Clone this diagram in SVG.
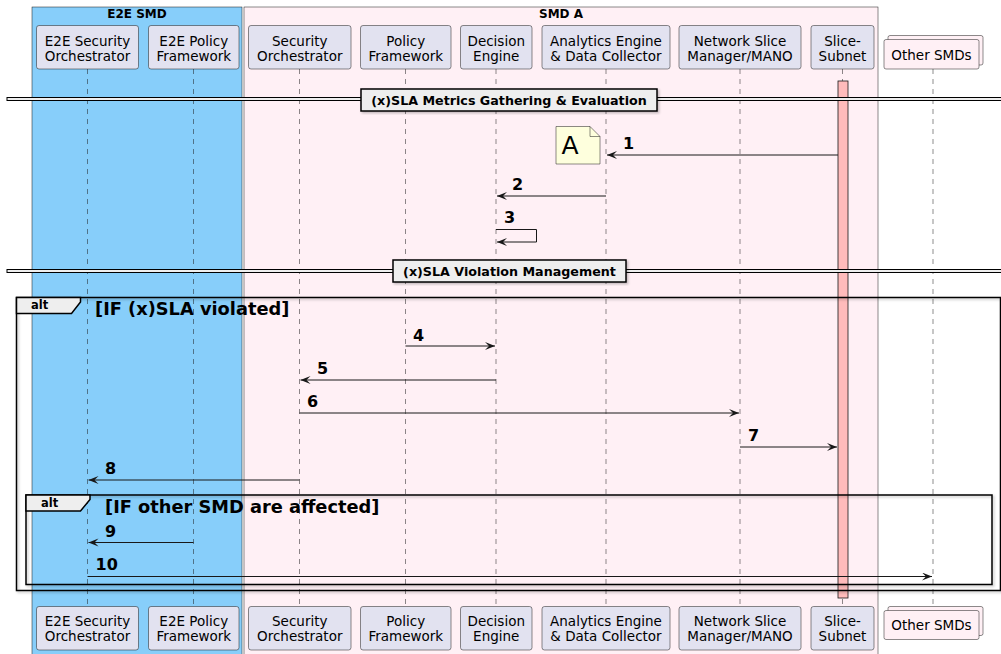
<svg xmlns="http://www.w3.org/2000/svg" width="1001" height="654" viewBox="0 0 1001 654">
  <style>
    text { font-family: "DejaVu Sans", "Liberation Sans", sans-serif; fill: #000; }
    .ptext { font-size: 13.5px; text-anchor: middle; }
    .box { fill: #E2E2F0; stroke: #181818; stroke-width: 0.5; }
    .coll { fill: #FFF0F5; stroke: #181818; stroke-width: 0.5; }
    .life { stroke: #181818; stroke-width: 0.5; stroke-dasharray: 5 5; fill: none; }
    .msg { stroke: #181818; stroke-width: 1; fill: none; marker-end: url(#arrow); }
    .num { font-size: 16px; font-weight: bold; }
    .divbar { fill: #EEEEEE; stroke: #000; stroke-width: 1; }
    .divbox { fill: #EEEEEE; stroke: #000; stroke-width: 1.5; }
    .divtext { font-size: 12.7px; font-weight: bold; text-anchor: middle; }
    .frame { fill: none; stroke: #000; stroke-width: 1.5; }
    .tab { fill: #EEEEEE; stroke: #000; stroke-width: 1.5; }
    .tabtext { font-size: 11.5px; font-weight: bold; }
    .guard { font-size: 17.8px; font-weight: bold; }
    .grptitle { font-size: 12px; font-weight: bold; text-anchor: middle; }
  </style>
  <defs>
    <marker id="arrow" markerUnits="userSpaceOnUse" markerWidth="11" markerHeight="9" refX="10" refY="4" orient="auto">
      <path d="M0,0 L10,4 L0,8 L4,4 Z" fill="#181818"/>
    </marker>
    <filter id="shadow" x="-5%" y="-5%" width="110%" height="120%">
      <feDropShadow dx="1.5" dy="1.5" stdDeviation="1" flood-color="#000" flood-opacity="0.25"/>
    </filter>
  </defs>

  <rect width="1001" height="654" fill="#FFFFFF"/>

  <!-- domain boxes -->
  <g id="box-e2e-smd">
    <rect x="32" y="7" width="210" height="660" fill="#87CEFA" stroke="#181818" stroke-width="0.5"/>
    <text class="grptitle" x="137" y="18">E2E SMD</text>
  </g>
  <g id="box-smd-a">
    <rect x="244" y="7" width="634" height="660" fill="#FFF0F5" stroke="#181818" stroke-width="0.5"/>
    <text class="grptitle" x="561" y="18">SMD A</text>
  </g>

  <!-- lifelines -->
  <g id="lifelines">
    <line class="life" x1="87.5" y1="69" x2="87.5" y2="606"/>
    <line class="life" x1="193.5" y1="69" x2="193.5" y2="606"/>
    <line class="life" x1="299.5" y1="69" x2="299.5" y2="606"/>
    <line class="life" x1="405.5" y1="69" x2="405.5" y2="606"/>
    <line class="life" x1="496" y1="69" x2="496" y2="606"/>
    <line class="life" x1="606" y1="69" x2="606" y2="606"/>
    <line class="life" x1="740" y1="69" x2="740" y2="606"/>
    <line class="life" x1="842.5" y1="69" x2="842.5" y2="606"/>
    <line class="life" x1="933" y1="69" x2="933" y2="606"/>
  </g>

  <!-- participants (head and foot) -->
  <g id="p-e2e-sec-orch">
    <rect class="box" x="36.5" y="25.5" width="102" height="43.5" rx="2.5"/>
    <text class="ptext" x="87.5" y="45.5">E2E Security</text>
    <text class="ptext" x="87.5" y="60.5">Orchestrator</text>
    <rect class="box" x="36.5" y="606.5" width="102" height="43.5" rx="2.5"/>
    <text class="ptext" x="87.5" y="626">E2E Security</text>
    <text class="ptext" x="87.5" y="641">Orchestrator</text>
  </g>
  <g id="p-e2e-policy">
    <rect class="box" x="148.5" y="25.5" width="90.5" height="43.5" rx="2.5"/>
    <text class="ptext" x="193.75" y="45.5">E2E Policy</text>
    <text class="ptext" x="193.75" y="60.5">Framework</text>
    <rect class="box" x="148.5" y="606.5" width="90.5" height="43.5" rx="2.5"/>
    <text class="ptext" x="193.75" y="626">E2E Policy</text>
    <text class="ptext" x="193.75" y="641">Framework</text>
  </g>
  <g id="p-sec-orch">
    <rect class="box" x="248.5" y="25.5" width="102.5" height="43.5" rx="2.5"/>
    <text class="ptext" x="299.75" y="45.5">Security</text>
    <text class="ptext" x="299.75" y="60.5">Orchestrator</text>
    <rect class="box" x="248.5" y="606.5" width="102.5" height="43.5" rx="2.5"/>
    <text class="ptext" x="299.75" y="626">Security</text>
    <text class="ptext" x="299.75" y="641">Orchestrator</text>
  </g>
  <g id="p-policy">
    <rect class="box" x="360.5" y="25.5" width="90.5" height="43.5" rx="2.5"/>
    <text class="ptext" x="405.75" y="45.5">Policy</text>
    <text class="ptext" x="405.75" y="60.5">Framework</text>
    <rect class="box" x="360.5" y="606.5" width="90.5" height="43.5" rx="2.5"/>
    <text class="ptext" x="405.75" y="626">Policy</text>
    <text class="ptext" x="405.75" y="641">Framework</text>
  </g>
  <g id="p-decision">
    <rect class="box" x="460.5" y="25.5" width="71.5" height="43.5" rx="2.5"/>
    <text class="ptext" x="496.25" y="45.5">Decision</text>
    <text class="ptext" x="496.25" y="60.5">Engine</text>
    <rect class="box" x="460.5" y="606.5" width="71.5" height="43.5" rx="2.5"/>
    <text class="ptext" x="496.25" y="626">Decision</text>
    <text class="ptext" x="496.25" y="641">Engine</text>
  </g>
  <g id="p-analytics">
    <rect class="box" x="542" y="25.5" width="128" height="43.5" rx="2.5"/>
    <text class="ptext" x="606" y="45.5">Analytics Engine</text>
    <text class="ptext" x="606" y="60.5">&amp; Data Collector</text>
    <rect class="box" x="542" y="606.5" width="128" height="43.5" rx="2.5"/>
    <text class="ptext" x="606" y="626">Analytics Engine</text>
    <text class="ptext" x="606" y="641">&amp; Data Collector</text>
  </g>
  <g id="p-nsm">
    <rect class="box" x="679" y="25.5" width="122" height="43.5" rx="2.5"/>
    <text class="ptext" x="740" y="45.5">Network Slice</text>
    <text class="ptext" x="740" y="60.5">Manager/MANO</text>
    <rect class="box" x="679" y="606.5" width="122" height="43.5" rx="2.5"/>
    <text class="ptext" x="740" y="626">Network Slice</text>
    <text class="ptext" x="740" y="641">Manager/MANO</text>
  </g>
  <g id="p-slice-subnet">
    <rect class="box" x="811" y="25.5" width="63" height="43.5" rx="2.5"/>
    <text class="ptext" x="842.5" y="45.5">Slice-</text>
    <text class="ptext" x="842.5" y="60.5">Subnet</text>
    <rect class="box" x="811" y="606.5" width="63" height="43.5" rx="2.5"/>
    <text class="ptext" x="842.5" y="626">Slice-</text>
    <text class="ptext" x="842.5" y="641">Subnet</text>
  </g>
  <g id="p-other-smds">
    <rect class="coll" x="888" y="35.5" width="95" height="29.5" rx="2"/>
    <rect class="coll" x="884" y="39.5" width="95" height="29.5" rx="2"/>
    <text class="ptext" x="931.5" y="59.5">Other SMDs</text>
    <rect class="coll" x="888" y="606.5" width="95" height="29" rx="2"/>
    <rect class="coll" x="884" y="610.5" width="95" height="29" rx="2"/>
    <text class="ptext" x="931.5" y="630">Other SMDs</text>
  </g>

  <!-- activation of Slice-Subnet -->
  <g id="activation-slice-subnet">
    <rect x="838" y="81" width="10" height="517" fill="#FFBBBB" stroke="#181818" stroke-width="0.8"/>
  </g>

  <!-- section dividers -->
  <g id="divider-metrics">
    <rect class="divbar" x="7" y="97.5" width="1000" height="3"/>
    <rect class="divbox" x="361" y="89" width="296" height="22" filter="url(#shadow)"/>
    <text class="divtext" x="509" y="105">(x)SLA Metrics Gathering &amp; Evaluation</text>
  </g>
  <g id="divider-violation">
    <rect class="divbar" x="7" y="269.5" width="1000" height="3"/>
    <rect class="divbox" x="393" y="260" width="233" height="22" filter="url(#shadow)"/>
    <text class="divtext" x="509.5" y="276">(x)SLA Violation Management</text>
  </g>

  <!-- note -->
  <g id="note-a">
    <path d="M556,126.5 L590,126.5 L600,136.5 L600,164 L556,164 Z" fill="#FEFFDD" stroke="#181818" stroke-width="0.5"/>
    <path d="M590,126.5 L590,136.5 L600,136.5" fill="none" stroke="#181818" stroke-width="0.5"/>
    <text x="561.5" y="154" font-size="25">A</text>
  </g>

  <!-- alt fragments -->
  <g id="alt-violated">
    <rect class="frame" x="16.5" y="297.5" width="984" height="293" filter="url(#shadow)"/>
    <path class="tab" d="M16.5,297.5 L80.5,297.5 L80.5,302 L71.5,313.5 L16.5,313.5 Z"/>
    <text class="tabtext" x="31" y="309">alt</text>
    <text class="guard" x="95" y="315">[IF (x)SLA violated]</text>
  </g>
  <g id="alt-other-smd">
    <rect class="frame" x="26" y="495" width="966" height="89.5" filter="url(#shadow)"/>
    <path class="tab" d="M26,495 L90,495 L90,499.5 L80.5,511 L26,511 Z"/>
    <text class="tabtext" x="41" y="506.5">alt</text>
    <text class="guard" x="105" y="513">[IF other SMD are affected]</text>
  </g>

  <!-- messages -->
  <g id="connectors">
    <line class="msg" x1="838" y1="155" x2="607" y2="155"/>
    <text class="num" x="623" y="149">1</text>

    <line class="msg" x1="606" y1="196" x2="497" y2="196"/>
    <text class="num" x="512" y="190">2</text>

    <polyline class="msg" points="496,229.5 536.5,229.5 536.5,242 497,242"/>
    <text class="num" x="504" y="223">3</text>

    <line class="msg" x1="405.5" y1="346" x2="495" y2="346"/>
    <text class="num" x="413" y="341">4</text>

    <line class="msg" x1="496" y1="380" x2="300.5" y2="380"/>
    <text class="num" x="317" y="374">5</text>

    <line class="msg" x1="299.5" y1="413" x2="739" y2="413"/>
    <text class="num" x="307" y="407">6</text>

    <line class="msg" x1="740" y1="447" x2="837" y2="447"/>
    <text class="num" x="748" y="441">7</text>

    <line class="msg" x1="299.5" y1="480" x2="88.5" y2="480"/>
    <text class="num" x="105" y="474">8</text>

    <line class="msg" x1="193.5" y1="542.5" x2="88.5" y2="542.5"/>
    <text class="num" x="105" y="537">9</text>

    <line class="msg" x1="87.5" y1="576.5" x2="932" y2="576.5"/>
    <text class="num" x="95.5" y="570">10</text>
  </g>
</svg>
